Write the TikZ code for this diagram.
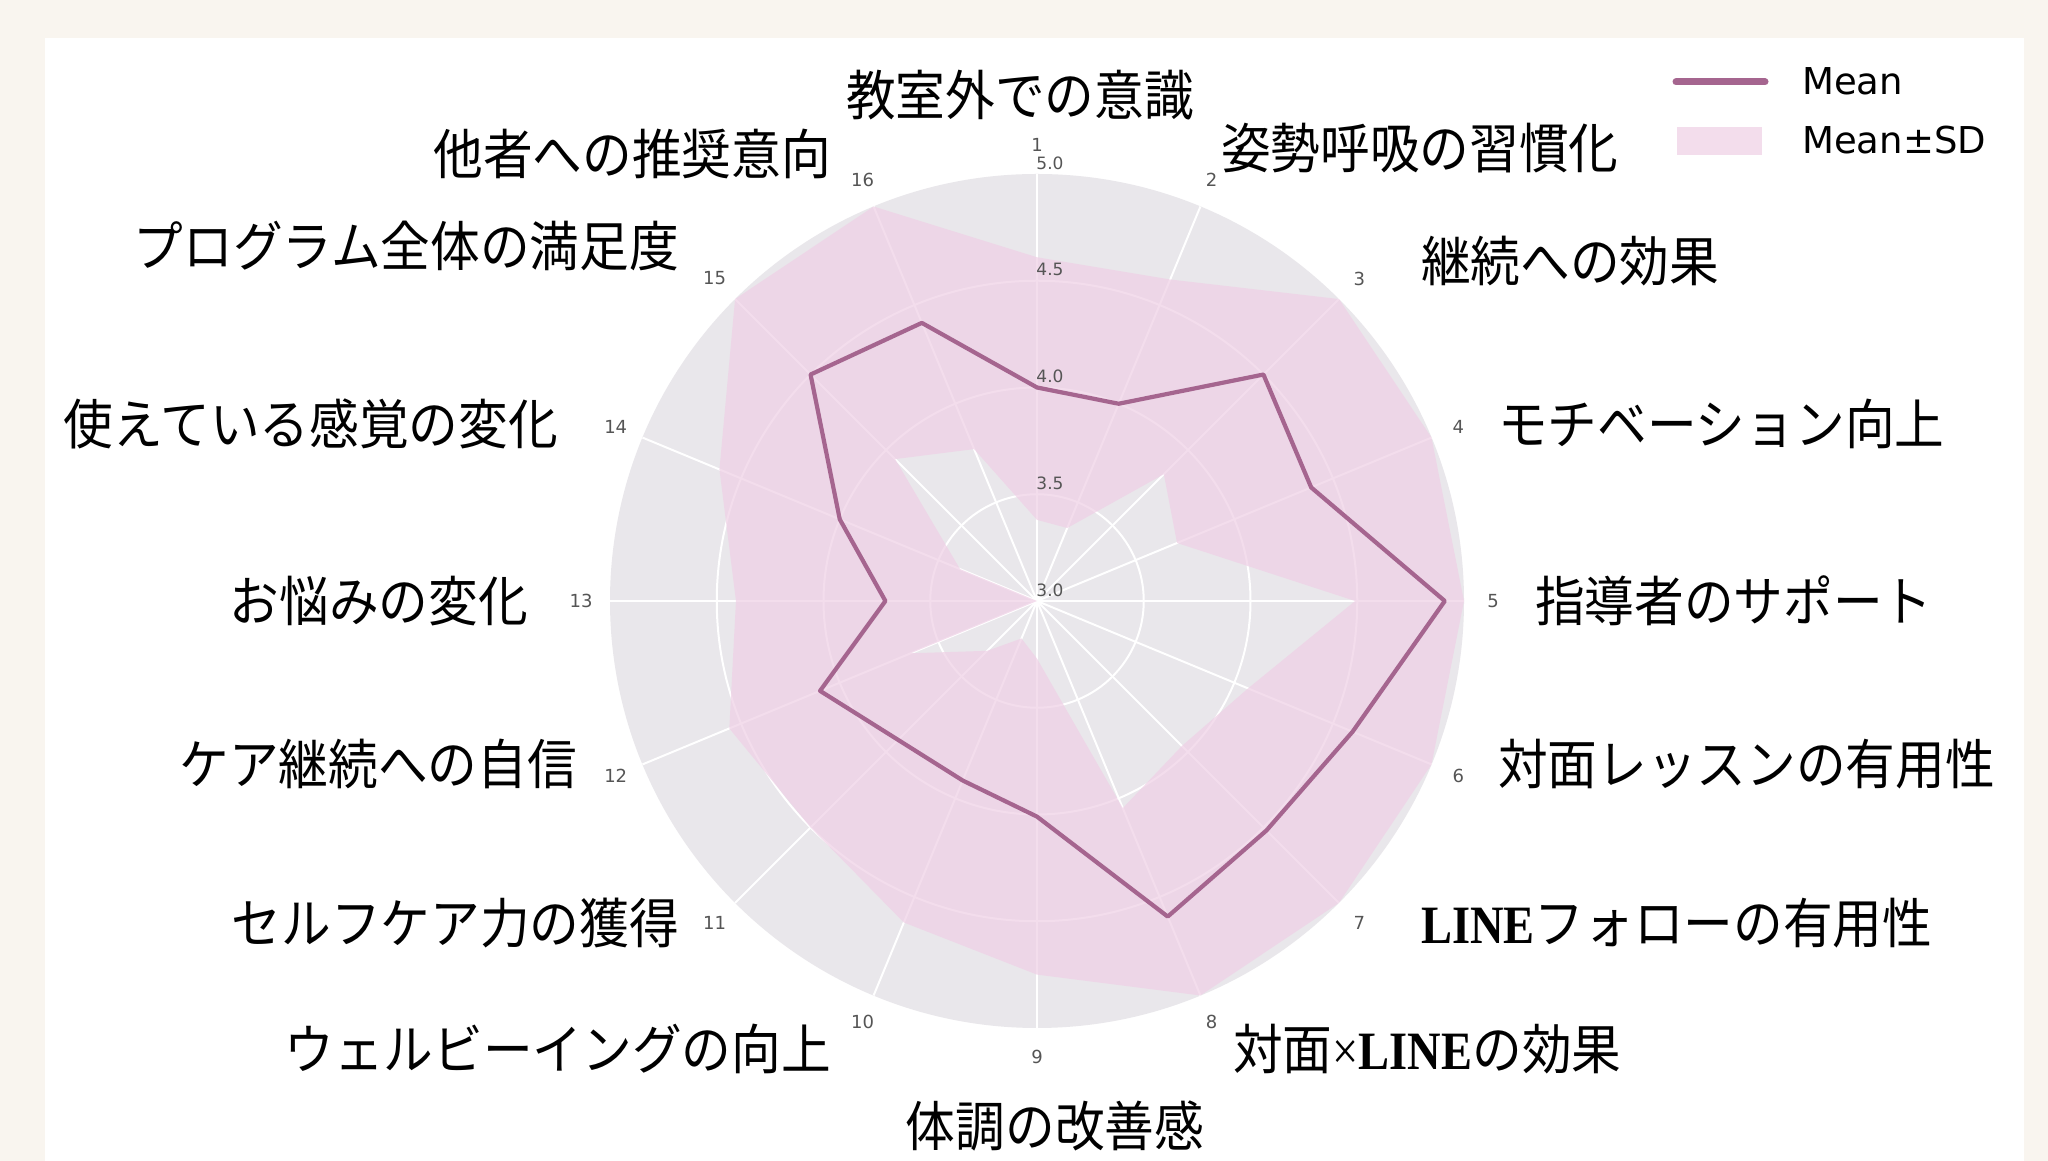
\documentclass[tikz,border=0pt]{standalone}
\usepackage{fontspec}
\setmainfont{DejaVu Sans}
\newfontfamily\jp[FakeStretch=0.92]{Noto Sans CJK JP}
\newfontfamily\lineserif[FakeStretch=0.86]{Liberation Serif}
\definecolor{cream}{HTML}{F9F5EF}
\definecolor{diskgrey}{HTML}{E9E7EB}
\definecolor{bandc}{RGB}{239,208,230}
\definecolor{meanc}{HTML}{A5658F}
\definecolor{numgrey}{HTML}{555555}
\begin{document}
\begin{tikzpicture}[x=1pt,y=1pt,
  biglabel/.style={font=\jp\fontsize{54}{56}\selectfont, inner sep=0pt, text=black},
  axnum/.style={font=\fontsize{18}{20}\selectfont, text=numgrey, inner sep=0pt},
  ticklab/.style={font=\fontsize{17}{19}\selectfont, text=numgrey, inner sep=0pt},
  gridline/.style={white, line width=2pt},
  meanline/.style={meanc, line width=4.2pt, line join=round},
  band/.style={fill=bandc, fill opacity=0.72, even odd rule},
  legtext/.style={font=\fontsize{37}{41}\selectfont, anchor=west, inner sep=0pt, text=black}]
\useasboundingbox (0,0) rectangle (2048,1161);
\fill[cream] (0,0) rectangle (2048,1161);
\fill[white] (45,0) rectangle (2024,1123);

\begin{scope}[shift={(1037,560)}]
  \fill[diskgrey] (0,0) circle (427);
  \foreach \i in {0,...,15} \draw[gridline] (0,0) -- ({90-\i*22.5}:427);
  \foreach \r in {106.75,213.5,320.25} \draw[gridline] (0,0) circle (\r);
  % mean values
  \foreach \v [count=\i] in {4.00,4.00,4.50,4.39,4.91,4.60,4.52,4.60,4.01,3.91,3.92,4.10,3.71,4.00,4.50,4.41}
    \coordinate (m\i) at ({90-(\i-1)*22.5}:{(\v-3)*213.5});
  % mean + SD (clipped at 5)
  \foreach \v [count=\i] in {4.61,4.63,5,5,5,5,5,5,4.75,4.63,4.50,4.56,4.41,4.61,5,5}
    \coordinate (hi\i) at ({90-(\i-1)*22.5}:{(\v-3)*213.5});
  % mean - SD (clipped at 3)
  \foreach \v [count=\i] in {3.38,3.37,3.84,3.71,4.49,4.07,3.96,4.05,3.27,3.19,3.33,3.64,3.0,3.39,3.94,3.77}
    \coordinate (lo\i) at ({90-(\i-1)*22.5}:{(\v-3)*213.5});
  \fill[band] (hi1) \foreach \i in {2,...,16}{ -- (hi\i)} -- cycle
              (lo1) \foreach \i in {2,...,16}{ -- (lo\i)} -- cycle;
  \draw[meanline] (m1) \foreach \i in {2,...,16}{ -- (m\i)} -- cycle;
  % radial tick labels
  \foreach \t [count=\k] in {3.0,3.5,4.0,4.5,5.0}
    \node[ticklab] (tick\k) at (13,{(\k-1)*106.75+11}) {\t};
  % axis numbers
  \foreach \i in {1,...,16}
    \node[axnum] (ax\i) at ({90-(\i-1)*22.5}:456) {\i};
\end{scope}

% category labels
\node[biglabel, anchor=center] (L1) at (1020,1066) {教室外での意識};
\node[biglabel, anchor=west] (L2) at (1221,1013) {姿勢呼吸の習慣化};
\node[biglabel, anchor=west] (L3) at (1421,900) {継続への効果};
\node[biglabel, anchor=west] (L4) at (1498,737) {モチベーション向上};
\node[biglabel, anchor=west] (L5) at (1535,560) {指導者のサポート};
\node[biglabel, anchor=west] (L6) at (1498,397) {対面レッスンの有用性};
\node[biglabel, anchor=west] (L7) at (1421,238) {{\lineserif\bfseries LINE}フォローの有用性};
\node[biglabel, anchor=west] (L8) at (1233,112) {対面{\lineserif ×}{\lineserif\bfseries LINE}の効果};
\node[biglabel, anchor=center] (L9) at (1055,35) {体調の改善感};
\node[biglabel, anchor=east] (L10) at (831,112) {ウェルビーイングの向上};
\node[biglabel, anchor=east] (L11) at (679,238) {セルフケア力の獲得};
\node[biglabel, anchor=east] (L12) at (577,397) {ケア継続への自信};
\node[biglabel, anchor=east] (L13) at (528,560) {お悩みの変化};
\node[biglabel, anchor=east] (L14) at (558,737) {使えている感覚の変化};
\node[biglabel, anchor=east] (L15) at (679,915) {プログラム全体の満足度};
\node[biglabel, anchor=east] (L16) at (831,1007) {他者への推奨意向};

% legend
\coordinate (legA) at (1676,1079);
\coordinate (legB) at (1765,1079);
\draw[meanc, line width=7pt, line cap=round] (legA) -- (legB);
\fill[bandc, fill opacity=0.72] (1677,1006) rectangle (1762,1034);
\node[legtext] (legMean) at (1802,1080) {Mean};
\node[legtext] (legSD) at (1802,1021) {Mean±SD};
\end{tikzpicture}
\end{document}
